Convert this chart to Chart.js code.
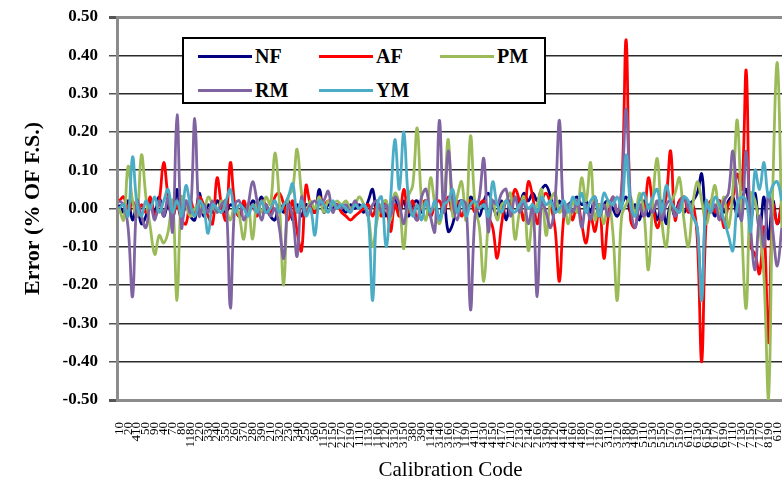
<!DOCTYPE html>
<html>
<head>
<meta charset="utf-8">
<script src="https://cdn.jsdelivr.net/npm/chart.js@4"></script>
<style>
    html, body { margin: 0; padding: 0; background: #fff; overflow: hidden; }
    #wrap { position: relative; width: 782px; height: 489px; overflow: hidden; }
    #errChart { position: absolute; left: 0; top: 0; }
    .legend {
        position: absolute; left: 182px; top: 37px; width: 360px; height: 63px;
        border: 2px solid #000; background: #fff;
        font: bold 20px "Liberation Serif", "Times New Roman", serif; color: #000;
    }
    .legend .item { position: absolute; height: 24px; line-height: 24px; }
    .legend .swatch { position: absolute; left: 0; top: 11px; width: 54px; height: 3px; }
    .legend .txt { position: absolute; left: 57px; top: 0; white-space: nowrap; }
</style>
</head>
<body>
<div id="wrap">
    <canvas id="errChart" width="784" height="489"></canvas>
    <div class="legend" id="legend"></div>
</div>
<script>
// Calibration codes (x categories)
const codes = [
    10, 30, 20, 40, 410, 420, 50, 60, 90, 70,
    40, 80, 70, 110, 80, 120, 1180, 130, 220, 140,
    330, 150, 240, 160, 350, 170, 260, 180, 370, 210,
    280, 220, 390, 230, 210, 240, 320, 250, 230, 260,
    340, 270, 250, 280, 360, 310, 1150, 320, 2150, 330,
    2170, 340, 2190, 350, 1110, 360, 1130, 370, 1160, 380,
    2120, 390, 3130, 410, 3150, 420, 380, 430, 390, 440,
    1140, 450, 3140, 460, 3160, 470, 3170, 480, 1190, 490,
    4110, 510, 4130, 520, 4150, 530, 4170, 540, 2110, 550,
    2130, 560, 2140, 570, 2160, 580, 3190, 590, 4120, 610,
    4140, 620, 4160, 630, 4180, 640, 1170, 650, 2180, 660,
    3110, 670, 3120, 680, 3180, 690, 4190, 710, 5110, 720,
    5130, 730, 5150, 740, 5170, 750, 5190, 760, 6110, 770,
    6130, 780, 6150, 790, 6170, 810, 6190, 820, 7110, 830,
    7130, 840, 7150, 850, 7170, 860, 8190, 870, 610, 920
];

const yTicks = [-0.5, -0.4, -0.3, -0.2, -0.1, 0, 0.1, 0.2, 0.3, 0.4, 0.5];

// Error values (% of F.S.) per series
const nf = [
    0.01, -0.01, 0.02, -0.03, 0.01, -0.04, -0.02, 0.02, -0.01, 0.03,
    -0.02, 0.01, -0.03, 0.05, -0.03, 0.01, -0.02, -0.03, 0.04, -0.02,
    0.01, -0.01, 0.02, 0.00, -0.01, 0.01, 0.00, -0.02, 0.01, -0.01,
    0.02, 0.01, 0.03, 0.00, -0.02, -0.03, 0.01, -0.01, 0.02, -0.03,
    0.01, -0.02, 0.01, 0.00, -0.01, 0.05, -0.01, 0.01, 0.00, 0.01,
    0.00, -0.01, 0.01, 0.00, 0.01, -0.01, 0.02, 0.05, -0.02, 0.01,
    -0.02, 0.01, 0.03, -0.01, 0.02, -0.02, 0.01, 0.02, -0.01, 0.02,
    -0.02, 0.01, -0.03, 0.02, -0.06, -0.04, 0.01, 0.02, -0.01, 0.03,
    0.01, -0.02, 0.02, 0.04, 0.01, -0.02, 0.02, -0.03, 0.02, 0.03,
    0.01, 0.04, 0.02, 0.04, 0.02, 0.05, 0.06, 0.03, -0.01, 0.02,
    -0.01, 0.01, 0.02, 0.03, 0.01, 0.02, -0.01, 0.03, -0.02, 0.01,
    0.02, 0.00, -0.02, 0.01, 0.03, -0.01, 0.01, -0.03, 0.02, -0.02,
    0.01, -0.03, 0.02, -0.04, 0.01, -0.02, 0.02, -0.01, 0.01, 0.02,
    0.04, 0.09, -0.03, 0.01, -0.02, 0.02, -0.01, 0.02, 0.03, -0.02,
    0.02, 0.05, -0.03, 0.04, -0.06, 0.03, -0.08, 0.02, -0.04, 0.01
];
const af = [
    0.02, 0.03, -0.01, 0.02, -0.02, 0.01, -0.01, 0.03, -0.02, 0.02,
    0.12, 0.03, -0.02, 0.01, -0.03, -0.04, 0.02, -0.01, 0.03, 0.01,
    -0.02, -0.04, 0.08, 0.01, -0.03, 0.12, 0.01, -0.02, 0.02, -0.01,
    0.01, -0.02, 0.02, 0.01, -0.01, 0.03, 0.04, 0.01, -0.03, 0.02,
    -0.06, -0.11, 0.06, 0.01, -0.01, 0.03, 0.01, 0.02, 0.01, 0.01,
    -0.01, -0.02, -0.03, -0.02, -0.01, 0.00, 0.01, -0.02, 0.01, -0.02,
    0.02, -0.06, 0.01, -0.02, 0.05, -0.01, 0.02, -0.03, 0.01, 0.02,
    -0.02, 0.01, 0.02, -0.01, 0.03, -0.01, 0.02, -0.02, 0.01, 0.02,
    -0.01, 0.01, 0.02, -0.02, -0.05, -0.13, -0.04, 0.02, 0.01, 0.05,
    0.02, -0.03, 0.07, 0.03, -0.04, 0.02, 0.04, 0.01, -0.05, -0.19,
    -0.02, 0.01, -0.03, 0.02, -0.04, -0.09, -0.02, -0.06, 0.01, -0.13,
    -0.02, 0.03, -0.01, 0.05, 0.44, -0.03, -0.05, 0.01, -0.02, 0.08,
    0.01, -0.05, -0.01, 0.03, 0.15, -0.03, 0.02, 0.03, -0.01, 0.01,
    -0.08, -0.40, -0.03, 0.02, -0.01, 0.02, -0.05, 0.01, 0.03, 0.09,
    0.05, 0.36, -0.10, -0.12, -0.17, -0.05, -0.35, 0.01, -0.04, 0.02
];
const pm = [
    0.00, -0.03, 0.11, 0.02, -0.02, 0.14, 0.03, -0.05, -0.12, -0.07,
    -0.09, -0.06, 0.02, -0.24, 0.03, 0.01, -0.02, 0.00, 0.01, -0.01,
    0.03, 0.01, -0.01, 0.02, 0.00, -0.03, 0.01, -0.02, -0.08, 0.01,
    -0.08, 0.02, -0.01, 0.03, 0.01, 0.145, 0.02, -0.20, 0.03, 0.05,
    0.155, 0.04, -0.01, 0.02, 0.00, 0.03, -0.01, 0.02, 0.01, 0.02,
    0.01, 0.02, 0.00, 0.01, 0.03, 0.01, -0.02, -0.10, -0.03, 0.01,
    0.02, -0.03, 0.04, 0.01, -0.105, 0.03, 0.06, 0.21, 0.02, -0.03,
    0.08, 0.01, -0.04, 0.02, 0.18, -0.02, 0.03, 0.07, -0.03, 0.19,
    0.01, -0.05, -0.19, -0.04, 0.02, -0.03, 0.01, 0.02, 0.04, -0.08,
    -0.01, 0.03, -0.11, -0.02, 0.01, 0.05, -0.07, 0.02, 0.04, -0.01,
    0.01, -0.04, 0.02, -0.01, 0.08, 0.02, 0.12, -0.03, 0.01, -0.04,
    0.02, -0.06, -0.24, -0.02, 0.01, 0.03, -0.02, 0.04, -0.01, -0.16,
    0.02, 0.13, -0.03, -0.10, 0.01, 0.04, 0.08, -0.03, -0.10, 0.01,
    0.07, 0.02, -0.04, 0.01, 0.06, -0.02, 0.03, -0.05, 0.05, 0.23,
    -0.05, -0.26, 0.04, 0.02, -0.05, -0.18, -0.50, 0.06, 0.38, -0.05
];
const rm = [
    0.02, 0.01, -0.05, -0.23, 0.02, -0.02, -0.05, 0.01, -0.03, 0.02,
    -0.02, 0.03, -0.06, 0.245, -0.05, 0.02, -0.01, 0.235, -0.02, 0.01,
    -0.01, 0.02, -0.01, 0.01, 0.02, -0.26, 0.01, 0.02, -0.03, 0.01,
    0.07, 0.02, -0.03, 0.01, -0.02, 0.00, -0.05, -0.13, 0.01, -0.02,
    -0.125, 0.03, -0.01, 0.01, 0.02, 0.01, 0.02, 0.045, -0.01, 0.01,
    0.00, 0.01, -0.01, 0.02, 0.00, 0.01, -0.02, 0.01, 0.02, -0.01,
    0.01, -0.02, 0.03, 0.01, -0.04, 0.02, -0.01, -0.03, 0.03, 0.05,
    -0.02, -0.06, 0.23, -0.01, 0.15, 0.02, -0.03, 0.02, 0.01, -0.265,
    -0.02, 0.03, 0.13, -0.06, 0.02, 0.01, 0.04, 0.05, -0.02, 0.03,
    -0.01, 0.02, -0.04, 0.01, -0.23, 0.02, -0.01, -0.05, 0.02, 0.23,
    -0.02, 0.01, -0.01, 0.02, -0.05, 0.01, -0.03, 0.02, -0.02, 0.01,
    -0.02, 0.03, -0.01, 0.05, 0.26, 0.02, -0.05, 0.01, -0.02, 0.01,
    -0.01, 0.02, -0.03, 0.01, 0.02, -0.02, 0.01, 0.03, 0.00, -0.02,
    -0.05, -0.23, 0.02, -0.01, 0.01, -0.03, 0.02, 0.04, 0.15, 0.03,
    -0.03, 0.15, -0.05, -0.16, -0.02, -0.10, 0.04, -0.06, -0.15, -0.05
];
const ym = [
    0.00, 0.01, -0.02, 0.135, 0.01, -0.02, 0.02, 0.00, 0.03, -0.01,
    0.02, 0.05, -0.01, 0.02, -0.02, 0.06, 0.01, -0.02, 0.02, 0.00,
    -0.065, 0.01, 0.00, -0.01, 0.02, 0.05, -0.01, 0.01, 0.00, -0.02,
    0.01, -0.01, 0.02, -0.01, 0.00, 0.02, -0.01, 0.01, 0.03, 0.065,
    -0.01, 0.02, -0.02, 0.00, -0.07, 0.02, 0.01, -0.01, 0.02, 0.00,
    0.01, 0.00, -0.01, 0.01, 0.00, 0.01, -0.02, -0.24, 0.01, 0.03,
    -0.10, 0.02, 0.18, 0.05, 0.20, 0.03, -0.02, 0.01, -0.03, 0.02,
    -0.01, 0.02, -0.03, 0.01, 0.02, 0.05, -0.01, 0.02, -0.02, 0.01,
    0.02, 0.00, 0.01, -0.02, 0.07, 0.01, -0.01, 0.02, 0.00, -0.01,
    0.01, 0.02, 0.00, 0.01, -0.01, 0.03, 0.01, 0.02, -0.01, 0.00,
    0.02, -0.01, 0.03, 0.01, 0.04, -0.01, 0.02, 0.03, -0.02, 0.04,
    0.02, 0.01, 0.03, 0.00, 0.14, 0.01, -0.02, 0.02, 0.04, 0.00,
    0.03, 0.05, -0.01, 0.06, 0.02, 0.00, -0.01, 0.03, 0.02, -0.02,
    -0.05, -0.24, 0.02, -0.01, 0.03, 0.01, -0.03, -0.07, -0.11, 0.01,
    0.03, 0.02, -0.06, 0.10, 0.05, 0.12, 0.03, 0.06, 0.07, 0.02
];

const seriesNames = ['NF', 'AF', 'PM', 'RM', 'YM'];
const seriesColors = ['#000080', '#ff0000', '#9bbb59', '#8064a2', '#4bacc6'];
const seriesData = [nf, af, pm, rm, ym];

const serif = '"Liberation Serif", "Times New Roman", serif';

// Legend box (HTML, sits over the plot like the Excel one)
function buildLegend() {
    const legend = document.getElementById('legend');
    const spots = [[14, 5], [135, 5], [256, 5], [14, 39], [135, 39]];
    seriesNames.forEach((name, i) => {
        const item = document.createElement('div');
        item.className = 'item';
        item.style.left = spots[i][0] + 'px';
        item.style.top = spots[i][1] + 'px';
        item.innerHTML = `<span class="swatch" style="background:${seriesColors[i]}"></span><span class="txt">${name}</span>`;
        legend.appendChild(item);
    });
}

function isEdge(v) {
    return Math.abs(Math.abs(v) - 0.5) < 1e-6;
}

const ctx = document.getElementById('errChart').getContext('2d');
new Chart(ctx, {
    type: 'line',
    data: {
        labels: codes.map(String),
        datasets: seriesData.map((d, i) => ({
            label: seriesNames[i],
            data: d,
            borderColor: seriesColors[i],
            backgroundColor: seriesColors[i],
            borderWidth: 2.8,
            pointRadius: 0,
            tension: 0.4,
            fill: false,
            order: seriesData.length - i
        }))
    },
    options: {
        responsive: false,
        animation: false,
        layout: { padding: { left: 20, top: 17, right: 0, bottom: 6 } },
        plugins: {
            legend: { display: false },
            tooltip: { enabled: false }
        },
        scales: {
            x: {
                offset: true,
                grid: { display: false, drawTicks: false },
                border: { display: false },
                ticks: {
                    autoSkip: false,
                    minRotation: 90,
                    maxRotation: 90,
                    padding: 22,
                    color: '#000',
                    font: { family: serif, size: 13 },
                    callback: function (val, idx) {
                        return idx % 2 === 0 ? this.getLabelForValue(val) : '';
                    }
                },
                title: {
                    display: true,
                    text: 'Calibration Code',
                    color: '#000',
                    padding: 0,
                    font: { family: serif, size: 21 }
                },
                afterFit: s => {
                    s.height = 83;
                    s.paddingLeft = 0;
                    s.paddingRight = 0;
                }
            },
            y: {
                min: -0.5,
                max: 0.5,
                afterBuildTicks: s => { s.ticks = yTicks.map(v => ({ value: v })); },
                grid: {
                    color: c => isEdge(c.tick.value) ? '#8c8c8c' : '#2b2b2b',
                    lineWidth: c => isEdge(c.tick.value) ? 3 : 1.5,
                    tickColor: '#555',
                    tickLength: 8
                },
                border: { color: '#8c8c8c', width: 3 },
                ticks: {
                    padding: 11,
                    color: '#000',
                    font: { family: serif, size: 17, weight: 'bold' },
                    callback: v => v.toFixed(2)
                },
                title: {
                    display: true,
                    text: 'Error (% OF F.S.)',
                    color: '#000',
                    padding: 0,
                    font: { family: serif, size: 22, weight: 'bold' }
                },
                afterFit: s => {
                    s.width = 97;
                    s.paddingTop = 0;
                    s.paddingBottom = 0;
                }
            }
        }
    }
});

buildLegend();
</script>
</body>
</html>
